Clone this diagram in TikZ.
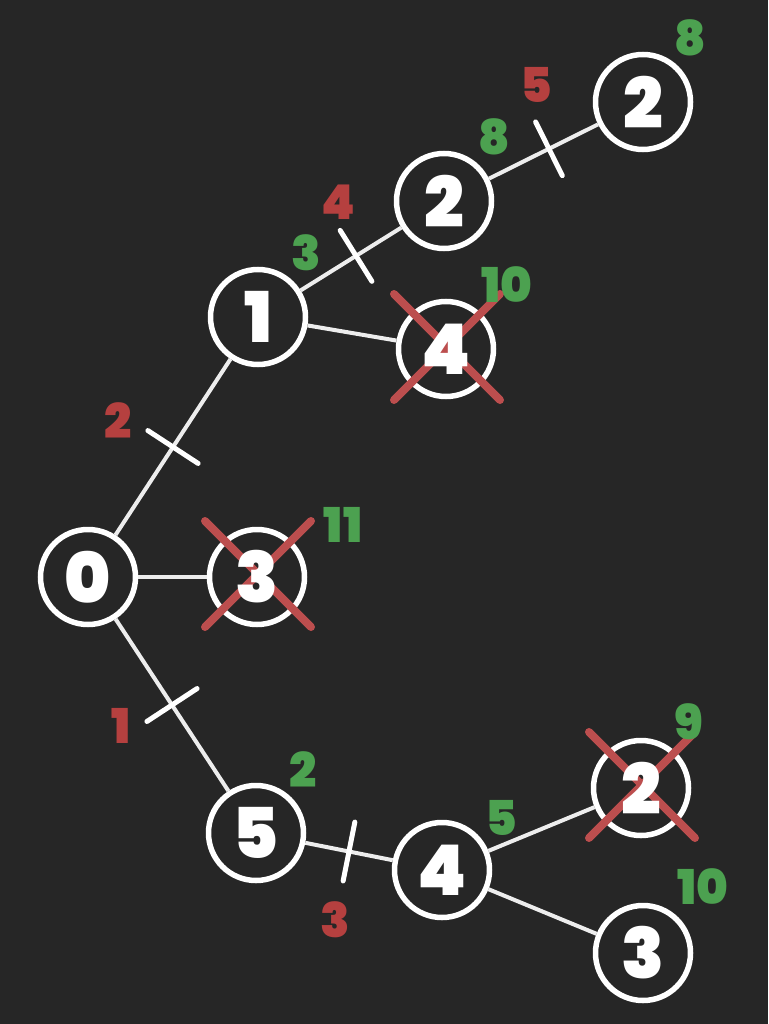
\documentclass[tikz,border=0pt]{standalone}
\usepackage{fontspec}
\setmainfont{Poppins}
\newfontfamily\heavy{Poppins}[UprightFont={* Black}]
\usetikzlibrary{decorations.markings,shapes.misc}
\definecolor{bg}{HTML}{262626}
\definecolor{wred}{HTML}{B5403F}
\definecolor{xred}{HTML}{BC4E4E}
\definecolor{wgreen}{HTML}{4CA150}
\begin{document}
\begin{tikzpicture}[x=1pt,y=-1pt,
  vtx/.style={circle, draw=white, line width=5.5pt, fill=bg, minimum size=95pt, inner sep=0pt, text=white, font=\fontsize{70}{70}\heavy},
  vtxtext/.style={inner sep=0pt, text=white, font=\fontsize{70}{70}\heavy},
  edge/.style={draw=white!93!black, line width=4pt},
  ticked/.style={postaction={decorate, decoration={markings, mark=at position #1 with {\draw[white, line width=5pt, line cap=round] (0,-30pt) -- (0,30pt);}}}},
  ticked/.default=0.5,
  wt/.style={text=wred, inner sep=0pt, font=\fontsize{48}{48}\heavy},
  est/.style={text=wgreen, inner sep=0pt, font=\fontsize{48}{48}\heavy},
  xmark/.style={cross out, draw=xred, line width=8pt, line cap=round, minimum size=98pt, inner sep=0pt}]
\fill[bg] (0,0) rectangle (768,1024);
\useasboundingbox (0,0) rectangle (768,1024);

% nodes
\node[vtx] (n0) at (88,577) {0};
\node[vtx] (n3) at (257,577) {};
\node[vtx] (n1) at (258,317) {1};
\node[vtx] (n5) at (256,833) {5};
\node[vtx] (n2a) at (444,201) {2};
\node[vtx] (n4a) at (446,349) {};
\node[vtx] (n2b) at (643,102) {2};
\node[vtx] (n4b) at (442,870) {4};
\node[vtx] (n2c) at (641,788) {};
\node[vtx] (n3b) at (643,953) {3};

% edges
\draw[edge, ticked] (n0) -- (n1);
\draw[edge] (n0) -- (n3);
\draw[edge, ticked] (n0) -- (n5);
\draw[edge, ticked=0.55] (n1) -- (n2a);
\draw[edge] (n1) -- (n4a);
\draw[edge, ticked=0.55] (n2a) -- (n2b);
\draw[edge, ticked] (n5) -- (n4b);
\draw[edge] (n4b) -- (n2c);
\draw[edge] (n4b) -- (n3b);

% crosses
\node[xmark] (x3) at (258,574) {};
\node[xmark] (x4a) at (447,347) {};
\node[xmark] (x2c) at (642,785) {};

% texts of crossed vertices (on top of crosses)
\node[vtxtext] (t3) at (n3) {3};
\node[vtxtext] (t4a) at (n4a) {4};
\node[vtxtext] (t2c) at (n2c) {2};

% weights
\node[wt] (w01) at (118,421) {2};
\node[wt] (w05) at (121,726) {1};
\node[wt] (w12) at (338,202) {4};
\node[wt] (w22) at (536,85) {5};
\node[wt] (w54) at (335,920) {3};

% estimates
\node[est] (e1) at (306,253) {3};
\node[est] (e2a) at (494,137) {8};
\node[est] (e2b) at (690,38) {8};
\node[est] (e4a) at (507,285) {10};
\node[est] (e3) at (343,525) {11};
\node[est] (e5) at (303,770) {2};
\node[est] (e4b) at (501,818) {5};
\node[est] (e2c) at (689,722) {9};
\node[est] (e3b) at (703,887) {10};
\end{tikzpicture}
\end{document}
